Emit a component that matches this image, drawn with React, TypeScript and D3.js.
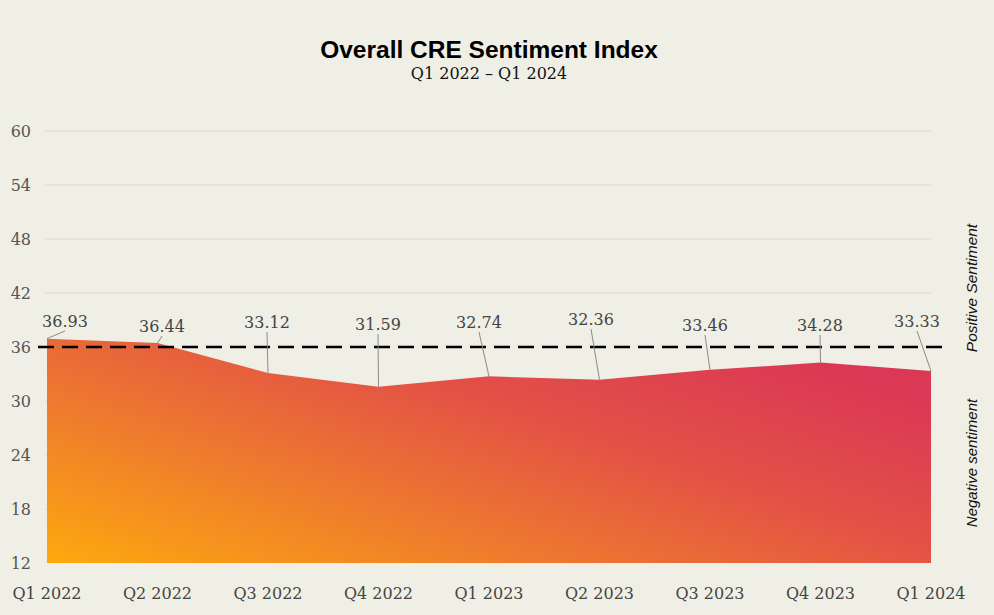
import React from "react";
import * as d3 from "d3";

const quarters = ["Q1 2022", "Q2 2022", "Q3 2022", "Q4 2022", "Q1 2023", "Q2 2023", "Q3 2023", "Q4 2023", "Q1 2024"];
const values = [36.93, 36.44, 33.12, 31.59, 32.74, 32.36, 33.46, 34.28, 33.33];
const yTicks = [12, 18, 24, 30, 36, 42, 48, 54, 60];
const threshold = 36;
// annotation layout: label offset from point x, label centre y (px)
const labelDx = [18, 4.5, -1, -0.5, -10, -8.5, -5, -0.5, -14];
const labelCy = [321, 326, 322, 324, 322, 319, 325, 325, 321];

const W = 994, H = 615;
const BG = "#F0EFE5";
const serif = "'DejaVu Serif', serif";
const sans = "'Liberation Sans', Arial, sans-serif";

export default function App() {
  const x = d3.scalePoint<string>().domain(quarters).range([47, 931]);
  const y = d3.scaleLinear().domain([12, 60]).range([563, 131]);
  const data = quarters.map((q, i) => ({ q, v: values[i] }));
  const area = d3.area<{ q: string; v: number }>()
    .x(d => x(d.q)!)
    .y0(y(12))
    .y1(d => y(d.v));

  return (
    <svg width={W} height={H} style={{ position: "absolute", left: 0, top: 0, background: BG }}>
      <rect width={W} height={H} fill={BG} />
      <defs>
        <linearGradient id="g" gradientUnits="userSpaceOnUse" x1={x(quarters[0])} y1={y(12)} x2={182} y2={154}>
          <stop offset="0" stopColor="#FDA90E" />
          <stop offset="0.36" stopColor="#EE7A2E" />
          <stop offset="0.68" stopColor="#E35146" />
          <stop offset="1" stopColor="#DB3855" />
        </linearGradient>
      </defs>
      <text x={489} y={58} textAnchor="middle" fontFamily={sans} fontWeight="bold" fontSize={24.5} fill="#000">Overall CRE Sentiment Index</text>
      <text x={489} y={79} textAnchor="middle" fontFamily={serif} fontSize={16} fill="#111">Q1 2022 – Q1 2024</text>

      {yTicks.map(t => (
        <g key={t}>
          {t !== 12 && t !== threshold && (
            <line x1={45} x2={931} y1={y(t)} y2={y(t)} stroke="#D9D8CE" strokeWidth={1} />
          )}
          <text x={31} y={y(t)} textAnchor="end" dominantBaseline="central" fontFamily={serif} fontSize={16} fill="#555">{t}</text>
        </g>
      ))}

      <path d={area(data)!} fill="url(#g)" />

      <line x1={38} x2={950} y1={y(threshold)} y2={y(threshold)} stroke="#000" strokeWidth={2.5} strokeDasharray="16 8" />

      {data.map((d, i) => {
        const px = x(d.q)!;
        const py = y(d.v);
        const lx = px + labelDx[i];
        const ly = labelCy[i];
        return (
          <g key={d.q}>
            <line x1={lx} y1={ly + 10} x2={px} y2={py} stroke="#8a8a8a" strokeWidth={1} />
            <text x={lx} y={ly} textAnchor="middle" dominantBaseline="central" fontFamily={serif} fontSize={16} fill="#444">{d.v.toFixed(2)}</text>
          </g>
        );
      })}

      {quarters.map(q => (
        <text key={q} x={x(q)} y={593} textAnchor="middle" dominantBaseline="central" fontFamily={serif} fontSize={16} fill="#444">{q}</text>
      ))}

      <text transform={`translate(977,288) rotate(-90)`} textAnchor="middle" fontFamily={sans} fontStyle="italic" fontSize={15.5} fill="#111">Positive Sentiment</text>
      <text transform={`translate(977,463) rotate(-90)`} textAnchor="middle" fontFamily={sans} fontStyle="italic" fontSize={15} fill="#111">Negative sentiment</text>
    </svg>
  );
}
